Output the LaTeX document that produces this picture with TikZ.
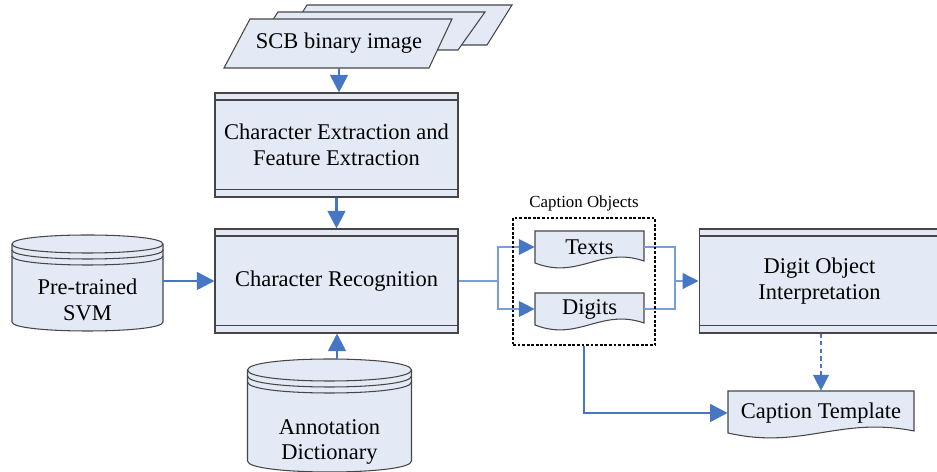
\documentclass[tikz,border=0pt]{standalone}
\usepackage{fontspec}
\setmainfont{Liberation Serif}
\usetikzlibrary{arrows.meta,positioning}

\definecolor{boxfill}{RGB}{227,234,246}
\definecolor{arrblue}{RGB}{70,118,196}
\definecolor{linkblue}{RGB}{120,158,218}
\definecolor{edge}{RGB}{70,70,70}

\tikzset{
  txt/.style={font=\fontsize{12.8}{14.5}\selectfont, align=center, inner sep=0pt},
  procbox/.style={txt, draw=edge, fill=boxfill, line width=0.6pt,
    minimum width=#1, minimum height=2.08cm,
    path picture={\draw[edge, line width=0.6pt]
      ([yshift=-0.14cm]path picture bounding box.north west) -- ([yshift=-0.14cm]path picture bounding box.north east)
      ([yshift=0.15cm]path picture bounding box.south west) -- ([yshift=0.15cm]path picture bounding box.south east);}},
  shapeline/.style={draw=edge, fill=boxfill, line width=0.6pt},
  arr/.style={draw=arrblue, line width=1.6pt, -{Triangle[length=10pt,width=10pt]}},
  lnk/.style={draw=linkblue, line width=0.7pt},
  lnkarr/.style={lnk, -{Triangle[length=9pt,width=9pt,color=arrblue]}},
  dasharr/.style={draw=arrblue, line width=0.8pt, dash pattern=on 2.5pt off 1.8pt,
    -{Triangle[length=9pt,width=9pt]}},
}

% drum: centre x, top y, side bottom y, x radius, y radius
\newcommand\drum[5]{%
  \pgfmathsetmacro\dl{#1-#4}\pgfmathsetmacro\dr{#1+#4}%
  \pgfmathsetmacro\dc{#2+#5}\pgfmathsetmacro\dk{4/3*#5}%
  \filldraw[shapeline] (\dl,\dc) -- (\dl,#3) .. controls (\dl,#3+\dk) and (\dr,#3+\dk) .. (\dr,#3)
    -- (\dr,\dc) .. controls (\dr,\dc-\dk) and (\dl,\dc-\dk) .. cycle;
  \foreach \s in {0,6,12}
    \draw[shapeline, fill=none] (\dl,\dc+\s) .. controls (\dl,\dc+\s+\dk) and (\dr,\dc+\s+\dk) .. (\dr,\dc+\s);
}
% document sheet: left, top, right, bottom
\newcommand\docshape[4]{%
  \filldraw[shapeline] (#1,#2) -- (#3,#2) -- (#3,#4-2)
    .. controls ({#3-0.4*(#3-#1)},#4-17) and ({#1+0.4*(#3-#1)},#4+17) .. (#1,#4) -- cycle;
}

\begin{document}
\begin{tikzpicture}[x=0.02cm, y=-0.02cm]
  \useasboundingbox (0,0) rectangle (937,472);

  % image stack
  \filldraw[shapeline] (307,5) -- (512,5) -- (487,45) -- (282,45) -- cycle;
  \filldraw[shapeline] (278,12) -- (485,12) -- (458,50) -- (253,50) -- cycle;
  \filldraw[shapeline] (250,19) -- (452,19) -- (429,68) -- (224,68) -- cycle;
  \node[txt, minimum height=0.98cm] (scb) at (339,43) {SCB binary image};

  \node[procbox=4.86cm] (ext) at (336.5,145) {Character Extraction and\\Feature Extraction};
  \node[procbox=4.86cm] (rec) at (336.5,281) {Character Recognition};
  \node[procbox=4.82cm] (dig) at (819.5,281) {Digit Object\\Interpretation};

  \drum{87.5}{235}{322}{75.5}{9}
  \node[txt, minimum width=3.02cm] (svm) at (87.5,300) {Pre-trained\\SVM};
  \drum{329.5}{359}{461}{82}{11}
  \node[txt] (dict) at (329.5,442) {Annotation\\Dictionary};
  \coordinate (dtop) at (337,359);

  \docshape{535}{231}{644}{263}
  \node[txt, minimum width=2.18cm] (texts) at (589.5,247) {Texts};
  \docshape{535}{293}{644}{325}
  \node[txt, minimum width=2.18cm] (digits) at (589.5,309) {Digits};
  \docshape{728}{391}{914}{433}
  \node[txt, minimum width=3.72cm, minimum height=0.88cm] (tmpl) at (821,413) {Caption Template};

  \coordinate (split) at (498,281);
  \coordinate (merge) at (675,281);

  % connectors
  \draw[arr] (scb.south) -- (scb.south |- ext.north);
  \draw[arr] (ext.south) -- (rec.north);
  \draw[arr] (svm.east |- rec.west) -- (rec.west);
  \draw[arr] (dtop) -- (dtop |- rec.south);
  \draw[lnk] (rec.east) -- (split);
  \draw[lnkarr] (split) |- (texts.west);
  \draw[lnkarr] (split) |- (digits.west);
  \draw[lnk] (texts.east) -| (merge);
  \draw[lnk] (digits.east) -| (merge);
  \draw[lnkarr] (merge) -- (dig.west);
  \draw[dasharr] (dig.south -| tmpl.north) -- (tmpl.north);

  \node[draw=black, line width=1.3pt, dash pattern=on 1.6pt off 1pt,
    minimum width=2.84cm, minimum height=2.54cm] (capobj) at (584,281.5) {};
  \node[font=\fontsize{9.6}{11}\selectfont, inner sep=0pt, above=3pt of capobj] (capobjlbl) {Caption Objects};
  \draw[arr] (capobj.south) |- (tmpl.west);
\end{tikzpicture}
\end{document}
